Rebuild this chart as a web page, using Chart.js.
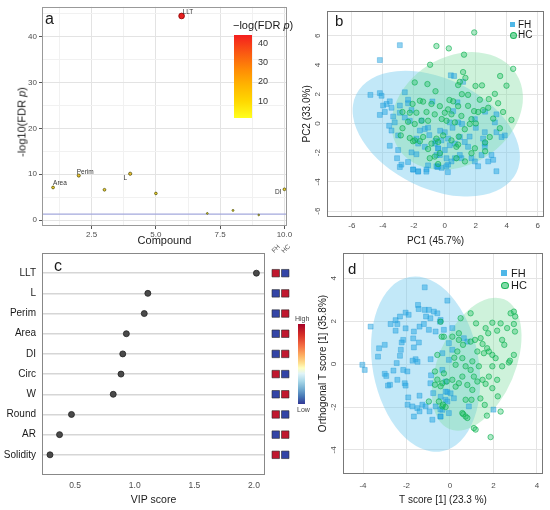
<!DOCTYPE html>
<html>
<head>
<meta charset="utf-8">
<script src="https://cdn.jsdelivr.net/npm/chart.js@4.4.1/dist/chart.umd.min.js"></script>
<style>
  body { margin: 0; background: #fff; }
  #page { position: relative; width: 550px; height: 510px; overflow: hidden; font-family: "Liberation Sans", Arial, sans-serif; }
  canvas { position: absolute; }
  .t { position: absolute; white-space: nowrap; line-height: 1; color: #1a1a1a; }
  .rot { transform: translate(-50%, -50%) rotate(-90deg); }
  .rot45 { transform: translate(-50%, -50%) rotate(-45deg); }
  .box { position: absolute; }
</style>
</head>
<body>
<div id="page">
  <canvas id="chartA" width="295" height="252" style="left:0;top:0"></canvas>
  <canvas id="chartB" width="260" height="252" style="left:290px;top:0"></canvas>
  <canvas id="chartC" width="270" height="270" style="left:0;top:240px"></canvas>
  <canvas id="chartHeat" width="19" height="270" style="left:271px;top:240px"></canvas>
  <canvas id="chartD" width="260" height="270" style="left:290px;top:240px"></canvas>

  <!-- panel letters -->
  <div class="t" style="left:45px;top:10.5px;font-size:16px">a</div>
  <div class="t" style="left:335px;top:13px;font-size:15px">b</div>
  <div class="t" style="left:54px;top:258px;font-size:16px">c</div>
  <div class="t" style="left:348px;top:261px;font-size:15px">d</div>

  <!-- panel a: y title + colour bar -->
  <div class="t rot" style="left:22px;top:122px;font-size:11px">-log10(FDR <i>p</i>)</div>
  <div class="t" style="left:233px;top:19.5px;font-size:11px">−log(FDR <i>p</i>)</div>
  <div class="box" style="left:234px;top:35px;width:18px;height:83px;background:linear-gradient(to bottom,#f41e1e 0%,#fa5a12 22%,#ff8c05 42%,#ffb400 60%,#ffd800 80%,#ffff1e 100%)"></div>
  <div id="aBarLabels"></div>

  <!-- panel b legend -->
  <div class="box" style="left:509.5px;top:21.5px;width:5px;height:5px;background:rgba(35,165,225,0.8)"></div>
  <div class="t" style="left:518px;top:19.5px;font-size:10px">FH</div>
  <div class="box" style="left:509.5px;top:31.5px;width:5px;height:5px;border-radius:50%;background:rgba(25,190,95,0.55);border:0.8px solid rgba(15,175,80,0.9)"></div>
  <div class="t" style="left:518px;top:30px;font-size:10px">HC</div>

  <!-- panel c: heat column labels + colour key -->
  <div class="t rot45" style="left:276px;top:249px;font-size:6.5px;color:#555">FH</div>
  <div class="t rot45" style="left:285.5px;top:249px;font-size:6.5px;color:#555">HC</div>
  <div class="box" style="left:298px;top:324px;width:7px;height:80px;background:linear-gradient(to bottom,#a50026 0%,#d73027 14%,#f46d43 27%,#fdae61 39%,#fee090 49%,#ffffbf 55%,#e0f3f8 62%,#abd9e9 71%,#74add1 81%,#4575b4 91%,#313695 100%)"></div>
  <div class="t" style="left:295px;top:314.5px;font-size:7px;color:#444">High</div>
  <div class="t" style="left:297px;top:405.5px;font-size:7px;color:#444">Low</div>

  <!-- panel d legend -->
  <div class="box" style="left:501.3px;top:270px;width:5.5px;height:5.5px;background:rgba(35,165,225,0.8)"></div>
  <div class="t" style="left:511px;top:267.5px;font-size:11px">FH</div>
  <div class="box" style="left:501px;top:281.7px;width:5.5px;height:5.5px;border-radius:50%;background:rgba(25,190,95,0.55);border:0.8px solid rgba(15,175,80,0.9)"></div>
  <div class="t" style="left:511px;top:279.5px;font-size:11px">HC</div>
</div>

<script>
// ---------- panel a: -log10(FDR p) per compound
var aCompound = [1, 2, 3, 4, 5, 6, 7, 8, 9, 10];
var aLogP = [7.1, 9.7, 6.6, 10.1, 5.8, 44.5, 1.45, 2.1, 1.1, 6.7];
var aNames = ['Area', 'Perim', '', 'L', '', 'LLT', '', '', '', 'DI'];
var aXTicks = [1.25, 2.5, 3.75, 5, 6.25, 7.5, 8.75, 10];
var aXMajor = [2.5, 5, 7.5, 10];
var aYTicks = [0, 5, 10, 15, 20, 25, 30, 35, 40, 45];
var aYMajor = [0, 10, 20, 30, 40];
var aBarTicks = [10, 20, 30, 40];
var aColorMin = 1.1, aColorMax = 44.5;
var aCutoff = 1.3;

// ---------- panel b: PCA scores
var bTicks = [-6, -4, -2, 0, 2, 4, 6];
var bFH = [[-2.9,5.35],[-4.19,4.33],[-4.8,1.95],[-4.19,2.07],[-4.08,1.89],[-2.58,2.13],[-3.55,1.51],[-3.76,1.33],[-3.98,1.22],[-3.44,1.07],
  [-3.87,0.78],[-4.19,0.58],[-3.33,0.47],[-2.9,1.22],[-2.37,1.38],[-2.15,0.91],[-2.58,0.4],[-3.59,-0.16],[-3.23,0.07],[-3.44,-0.49],
  [-3.01,-0.82],[-3.55,-1.53],[-3.01,-1.82],[-3.08,-2.38],[-2.8,-2.82],[-2.37,-2.64],[-2.04,-3.15],[-1.72,-3.27],[-1.83,-2.11],[-2.15,-1.98],
  [-1.61,-0.49],[-1.29,-0.38],[-1.08,-0.29],[-1.72,-1.38],[-1.29,-1.6],[-1.08,-2.87],[-1.18,-3.15],[-0.54,-2.93],[-0.54,-2.16],[-0.64,-1.38],
  [-0.43,-1.71],[-2.26,0.18],[-2.37,1.62],[-1.83,-1.04],[-2.9,0.73],[0.39,3.29],[0.6,3.24],[1.18,2.84],[0.82,1.44],[0.54,0.84],
  [0.32,0.07],[0.86,0.07],[1.11,-0.04],[1.94,0.29],[3.33,0.62],[3.23,0.07],[3.33,-0.6],[3.87,-0.82],[3.66,-0.93],[2.58,-0.6],
  [2.47,-1.04],[2.58,-1.38],[2.37,-2.16],[2.58,-1.6],[3.01,-2.16],[2.8,-2.6],[3.12,-2.49],[3.33,-3.27],[1.5,-1.6],[1.72,-2.38],
  [1.07,-2.38],[0.97,-2.16],[0.65,-2.38],[0.43,-2.6],[0.21,-2.82],[-0.21,-3.04],[-0.43,-2.93],[-0.32,-2.16],[0.0,-1.82],[0.32,-1.49],
  [0.65,-1.38],[1.29,-1.27],[0.97,-0.93],[0.21,-1.04],[-0.22,-1.16],[-0.43,-1.71],[0.0,-0.6],[0.11,-2.38],[1.94,-2.6],[2.15,-2.93],
  [-2.9,-2.98],[-2.05,-3.16],[-1.72,-3.3],[-1.19,-3.3],[-0.47,-2.98],[0.1,-2.93],[0.2,-3.33],[-1.5,0.2],[-1.0,-0.8],[-0.6,-1.2],
  [-0.3,-0.5],[0.5,-0.3],[1.6,-0.9],[2.0,-0.3],[2.6,0.8],[-0.8,1.5]];
var bHC = [[1.9,6.22],[-0.54,5.29],[0.26,5.13],[1.24,4.7],[-0.95,4.01],[4.41,3.73],[3.57,3.24],[3.98,2.58],[1.18,3.51],[1.33,3.11],
  [0.97,2.84],[0.86,2.62],[1.98,2.56],[1.5,1.95],[2.26,1.62],[3.23,2.02],[2.84,1.66],[3.44,1.38],[3.76,0.78],[4.3,0.24],
  [3.55,-0.33],[3.12,0.33],[2.8,1.07],[2.47,0.91],[2.15,0.78],[1.89,0.84],[1.72,0.29],[1.61,-0.04],[0.86,1.18],[0.54,1.51],
  [0.21,0.96],[0.0,0.73],[-0.32,1.18],[-0.65,0.62],[0.43,0.62],[0.11,0.18],[0.65,0.07],[1.07,0.51],[1.29,-0.4],[-0.11,-0.82],
  [0.43,-1.16],[0.75,-1.6],[0.86,-1.45],[-0.43,-1.27],[-0.32,-2.04],[1.94,-1.7],[1.72,-2.04],[2.9,-0.93],[2.6,-1.3],[2.6,-1.9],
  [-1.94,2.8],[-1.12,2.69],[-1.61,1.55],[-1.4,1.49],[-2.08,1.33],[-2.73,0.78],[-2.26,0.73],[-1.83,0.73],[-1.18,0.78],[-0.86,1.33],
  [-1.5,0.18],[-1.94,-0.04],[-2.37,0.11],[-2.73,-0.33],[-2.84,-0.82],[-2.26,-1.0],[-1.94,-1.16],[-1.61,-1.22],[-1.4,-0.93],[-1.08,0.18],
  [-1.08,-1.75],[-0.86,-1.38],[-0.54,-1.04],[-0.65,-2.27],[-0.97,-2.38],[-2.05,-1.22],[-0.43,-2.78],[0.75,-2.38],[1.3,-2.6],[0.3,1.6],
  [1.5,1.2],[2.0,0.0],[0.9,-0.9],[-0.2,0.3],[1.1,2.0],[2.4,2.6],[-0.6,2.2]];
// ellipse: centre x, centre y, radius x, radius y, rotation (deg)
var bEllipseFH = [-0.55, -0.7, 5.75, 3.75, 26];
var bEllipseHC = [0.8, 0.85, 4.5, 3.7, -32];

// ---------- panel c: VIP scores
var cFeatures = ['LLT', 'L', 'Perim', 'Area', 'DI', 'Circ', 'W', 'Round', 'AR', 'Solidity'];
var cVip = [2.02, 1.11, 1.08, 0.93, 0.90, 0.885, 0.82, 0.47, 0.37, 0.29];
var cXTicks = [0.5, 1.0, 1.5, 2.0];
var cGroups = ['FH', 'HC'];
var cHeatFH = [1, 0, 0, 0, 0, 1, 0, 1, 0, 1];   // 1 = high, 0 = low
var cHeatHC = [0, 1, 1, 1, 1, 0, 1, 0, 1, 0];
var cRows = [''].concat(cFeatures, ['']);

// ---------- panel d: OPLS-DA scores
var dTicks = [-4, -2, 0, 2, 4];
var dFH = [[-1.16,3.58],[-1.47,2.76],[-1.44,2.57],[-1.16,2.53],[-0.97,2.53],[-0.74,2.45],[-0.58,2.37],[-2.04,2.4],[-2.3,2.22],[-0.12,2.96],
  [-1.1,2.22],[-0.9,2.14],[-0.46,1.98],[-2.73,1.87],[-2.42,1.87],[-1.2,1.87],[-3.65,1.75],[-2.5,1.56],[-2.04,1.67],[-1.66,1.52],
  [-1.4,1.75],[-0.97,1.6],[-0.66,1.52],[-2.15,1.13],[-2.22,1.01],[-1.69,1.2],[-1.43,1.01],[-3.26,0.74],[-3.31,0.35],[-2.26,0.67],
  [-2.3,0.39],[-1.66,0.78],[-1.58,0.23],[-1.72,0.16],[-1.49,0.11],[-4.03,-0.03],[-3.92,-0.27],[-2.45,0.05],[-2.15,-0.27],[-1.96,-0.34],
  [-3.0,-0.45],[-2.93,-0.55],[-2.42,-0.73],[-2.76,-0.96],[-2.85,-1.0],[-2.08,-0.89],[-2.04,-1.0],[-0.89,0.23],[-0.87,-0.52],[-0.9,-0.89],
  [-0.77,-1.35],[-1.92,-1.55],[-1.4,-1.47],[-1.95,-1.89],[-1.73,-1.97],[-1.5,-2.05],[-1.27,-1.89],[-1.12,-1.97],[-1.4,-2.2],[-1.66,-2.44],
  [-0.94,-2.2],[-0.66,-1.97],[-0.81,-2.59],[-0.44,-2.11],[-0.2,-1.66],[-0.12,-1.3],[-0.44,-2.44],[2.0,-2.12],[-0.43,2.06],[-0.28,1.6],
  [0.11,1.68],[0.64,1.21],[0.8,1.05],[-0.05,0.98],[0.11,0.67],[-0.35,0.51],[-0.05,0.2],[-0.35,-0.27],[-0.2,-0.81],[-0.2,-1.28],
  [-0.43,-1.52],[0.03,-1.36],[-0.12,-1.74],[0.18,-1.59],[-0.35,-2.13],[-0.05,-2.28],[0.87,-1.97],[-0.43,-2.44],[-2.5,2.05],[-1.9,2.3],
  [-3.0,0.9],[-2.6,-0.3]];
var dHC = [[2.94,2.45],[3.0,2.22],[0.95,2.37],[0.49,2.14],[1.95,1.93],[2.33,1.9],[2.94,1.87],[1.64,1.68],[1.76,1.44],[2.17,1.56],
  [2.63,1.68],[2.99,1.52],[2.4,1.13],[1.41,1.21],[1.15,1.13],[0.95,1.05],[-0.28,1.28],[0.11,1.28],[0.41,1.13],[1.5,0.94],
  [1.71,0.74],[1.79,0.59],[1.26,0.59],[1.56,0.51],[1.95,0.43],[2.1,0.28],[2.94,0.43],[2.71,0.08],[2.4,-0.1],[1.95,-0.1],
  [0.34,0.59],[0.57,0.28],[0.26,-0.03],[0.72,-0.1],[1.03,0.13],[1.33,-0.1],[0.95,-0.27],[1.1,-0.58],[1.5,-0.73],[1.79,-0.58],
  [2.17,-0.73],[1.95,-1.12],[1.64,-0.92],[1.26,-0.81],[0.57,-0.58],[0.41,-0.89],[0.11,-0.73],[-0.28,-0.43],[-0.35,-0.89],[0.26,-1.05],
  [0.8,-0.97],[1.03,-1.2],[0.72,-1.66],[0.99,-1.66],[-0.51,-1.74],[-0.35,-1.97],[0.57,-2.28],[0.72,-2.44],[1.1,-2.98],[1.18,-3.05],
  [1.87,-3.4],[2.33,-2.21],[1.7,-2.4],[0.41,1.44],[-0.43,1.98],[-0.38,1.28],[-0.58,0.43],[-0.69,-0.34],[-0.58,-0.72],[-0.43,-1.03],
  [-0.32,-1.89],[-0.2,-2.0],[-0.97,-1.74],[-0.69,-0.96],[-0.15,-0.81],[0.61,-2.33],[0.8,-2.51],[2.79,2.37],[2.76,0.16],[2.2,-1.5],
  [1.4,-1.6],[0.2,0.3],[0.6,0.9],[2.5,0.9],[1.2,1.9],[1.6,-1.9]];
var dEllipseFH = [-1.12, 0.0, 2.44, 4.13, -10.6];
var dEllipseHC = [1.23, 0.0, 1.77, 3.28, 23];

// ---------- shared settings
Chart.defaults.font.family = '"Liberation Sans", Arial, sans-serif';
Chart.defaults.color = '#4d4d4d';
Chart.defaults.animation = false;
Chart.defaults.events = [];
Chart.defaults.plugins.legend.display = false;
Chart.defaults.plugins.tooltip.enabled = false;

var blueFill = 'rgba(110,200,238,0.42)';
var greenFill = 'rgba(125,220,160,0.38)';

function frame(color) {
  return {
    id: 'frame',
    afterDatasetsDraw: function (chart) {
      var a = chart.chartArea, ctx = chart.ctx;
      ctx.save();
      ctx.strokeStyle = color;
      ctx.lineWidth = 1;
      ctx.strokeRect(Math.round(a.left) + 0.5, Math.round(a.top) + 0.5,
        Math.round(a.right - a.left) - 1, Math.round(a.bottom - a.top) - 1);
      ctx.restore();
    }
  };
}

// confidence ellipses drawn in data units through the chart scales
function ellipses(list) {
  return {
    id: 'ellipses',
    beforeDatasetsDraw: function (chart) {
      var ctx = chart.ctx, a = chart.chartArea, x = chart.scales.x, y = chart.scales.y;
      ctx.save();
      ctx.beginPath();
      ctx.rect(a.left, a.top, a.right - a.left, a.bottom - a.top);
      ctx.clip();
      list.forEach(function (item) {
        var e = item[0];
        var cx = x.getPixelForValue(e[0]), cy = y.getPixelForValue(e[1]);
        var rx = Math.abs(x.getPixelForValue(e[0] + e[2]) - cx);
        var ry = Math.abs(y.getPixelForValue(e[1] + e[3]) - cy);
        ctx.beginPath();
        ctx.ellipse(cx, cy, rx, ry, e[4] * Math.PI / 180, 0, 2 * Math.PI);
        ctx.fillStyle = item[1];
        ctx.fill();
      });
      ctx.restore();
    }
  };
}

function setTicks(list) {
  return function (s) { s.ticks = list.map(function (v) { return { value: v }; }); };
}
function fixW(w) { return function (s) { s.width = w; }; }
function fixH(h) { return function (s) { s.height = h; }; }

function groupSets(fh, hc) {
  return [
    { data: hc.map(function (p) { return { x: p[0], y: p[1] }; }), pointStyle: 'circle', pointRadius: 2.7,
      backgroundColor: 'rgba(25,190,95,0.35)', borderColor: 'rgba(15,178,82,0.8)', borderWidth: 0.8, clip: false },
    { data: fh.map(function (p) { return { x: p[0], y: p[1] }; }), pointStyle: 'rect', pointRadius: 3.5,
      backgroundColor: 'rgba(35,165,225,0.5)', borderColor: 'rgba(25,150,215,0.7)', borderWidth: 0.5, clip: false }
  ];
}

function pcaScale(min, max, ticks, title, vertical, titlePad) {
  return {
    type: 'linear', min: min, max: max,
    afterBuildTicks: setTicks(ticks),
    ticks: vertical
      ? { font: { size: 8 }, color: '#4d4d4d', padding: 6, minRotation: 90, maxRotation: 90, crossAlign: 'center', autoSkip: false }
      : { font: { size: 8 }, color: '#4d4d4d', padding: titlePad[1], maxRotation: 0, autoSkip: false },
    grid: { color: '#e4e4e4', drawTicks: false },
    border: { display: false },
    title: { display: true, text: title, font: { size: 10 }, color: '#1a1a1a',
      padding: vertical ? { top: titlePad[0], bottom: 0 } : { top: 0, bottom: titlePad[0] } }
  };
}

// ---------- panel a
function fdrColor(v) {
  var t = (v - aColorMin) / (aColorMax - aColorMin);
  t = Math.max(0, Math.min(1, t));
  return 'rgb(' + Math.round(240 - 10 * t) + ',' + Math.round(232 * (1 - t) + 30 * t) + ',' + Math.round(50 * (1 - t) + 30 * t) + ')';
}
var aLabelOffset = { Area: [0, -2, 'left'], Perim: [-2, -2, 'left'], L: [-3, 6, 'right'], LLT: [1, -2, 'left'], DI: [-3, 5, 'right'] };

var aLabels = {
  id: 'ptlabels',
  afterDatasetsDraw: function (chart) {
    var ctx = chart.ctx, meta = chart.getDatasetMeta(0);
    ctx.save();
    ctx.font = '6.5px "Liberation Sans", Arial, sans-serif';
    ctx.fillStyle = '#333';
    meta.data.forEach(function (pt, i) {
      var n = aNames[i];
      if (!n) return;
      var o = aLabelOffset[n];
      ctx.textAlign = o[2];
      ctx.fillText(n, pt.x + o[0], pt.y + o[1]);
    });
    ctx.restore();
  }
};

var aCutLine = {
  id: 'cutoff',
  beforeDatasetsDraw: function (chart) {
    var ctx = chart.ctx, a = chart.chartArea, y = chart.scales.y.getPixelForValue(aCutoff);
    ctx.save();
    ctx.strokeStyle = '#a3a8dc';
    ctx.lineWidth = 1.4;
    ctx.beginPath();
    ctx.moveTo(a.left, y);
    ctx.lineTo(a.right, y);
    ctx.stroke();
    ctx.restore();
  }
};

new Chart('chartA', {
  type: 'scatter',
  data: {
    datasets: [{
      data: aCompound.map(function (c, i) { return { x: c, y: aLogP[i] }; }),
      pointRadius: aLogP.map(function (v) { return 0.45 + 0.36 * Math.sqrt(v); }),
      backgroundColor: aLogP.map(fdrColor),
      borderColor: aLogP.map(function (v) { return v > 20 ? '#8b0000' : 'rgba(70,70,0,0.9)'; }),
      borderWidth: 0.8,
      clip: false
    }]
  },
  options: {
    responsive: false,
    layout: { padding: { top: 6, right: 8, left: 0, bottom: 0 } },
    scales: {
      x: {
        type: 'linear', min: 0.57, max: 10.1,
        afterBuildTicks: setTicks(aXTicks), afterFit: fixH(26),
        ticks: { callback: function (v) { return aXMajor.indexOf(v) >= 0 ? v.toFixed(1) : ''; },
          font: { size: 8 }, color: '#4d4d4d', padding: 1, maxRotation: 0, autoSkip: false },
        grid: { color: function (c) { return aXMajor.indexOf(c.tick.value) >= 0 ? '#e3e3e3' : '#f1f1f1'; },
          tickLength: 3, tickColor: function (c) { return aXMajor.indexOf(c.tick.value) >= 0 ? '#555' : 'rgba(0,0,0,0)'; } },
        border: { display: false },
        title: { display: true, text: 'Compound', font: { size: 11 }, color: '#1a1a1a', padding: { top: 0, bottom: 4 } }
      },
      y: {
        type: 'linear', min: -1.3, max: 46.5,
        afterBuildTicks: setTicks(aYTicks), afterFit: fixW(42),
        ticks: { callback: function (v) { return aYMajor.indexOf(v) >= 0 ? String(v) : ''; },
          font: { size: 8 }, color: '#4d4d4d', padding: 2, autoSkip: false },
        grid: { color: function (c) { return aYMajor.indexOf(c.tick.value) >= 0 ? '#e3e3e3' : '#f1f1f1'; },
          tickLength: 3, tickColor: function (c) { return aYMajor.indexOf(c.tick.value) >= 0 ? '#555' : 'rgba(0,0,0,0)'; } },
        border: { display: false }
      }
    }
  },
  plugins: [aCutLine, aLabels, frame('#999')]
});

// colour bar labels for panel a
var barBox = document.getElementById('aBarLabels');
aBarTicks.forEach(function (v) {
  var d = document.createElement('div');
  d.className = 't';
  d.style.fontSize = '9px';
  d.style.color = '#333';
  d.style.left = '258px';
  d.style.top = (35 + (aColorMax - v) / (aColorMax - aColorMin) * 83 - 4.4) + 'px';
  d.textContent = String(v);
  barBox.appendChild(d);
});

// ---------- panel b
new Chart('chartB', {
  type: 'scatter',
  data: { datasets: groupSets(bFH, bHC) },
  options: {
    responsive: false,
    layout: { padding: { top: 6, right: 6, left: 8, bottom: 0 } },
    scales: {
      x: Object.assign(pcaScale(-7.6, 6.4, bTicks, 'PC1 (45.7%)', false, [5, 3.5]), { afterFit: fixH(35) }),
      y: Object.assign(pcaScale(-6.4, 7.7, bTicks, 'PC2 (33.0%)', true, [3]), { afterFit: fixW(29) })
    }
  },
  plugins: [ellipses([[bEllipseFH, blueFill], [bEllipseHC, greenFill]]), frame('#777')]
});

// ---------- panel c
new Chart('chartC', {
  type: 'scatter',
  data: {
    datasets: [{
      data: cFeatures.map(function (f, i) { return { x: cVip[i], y: f }; }),
      pointRadius: 3, backgroundColor: '#4a4a4a', borderColor: '#222', borderWidth: 0.8, clip: false
    }]
  },
  options: {
    responsive: false,
    layout: { padding: { top: 13, right: 5, left: 0, bottom: 0 } },
    scales: {
      x: {
        type: 'linear', min: 0.223, max: 2.092,
        afterBuildTicks: setTicks(cXTicks), afterFit: fixH(35),
        ticks: { callback: function (v) { return v.toFixed(1); }, font: { size: 8.5 }, color: '#4d4d4d', padding: 5.5, maxRotation: 0, autoSkip: false },
        grid: { display: false, drawTicks: false },
        border: { display: false },
        title: { display: true, text: 'VIP score', font: { size: 10.5 }, color: '#1a1a1a', padding: { top: 0, bottom: 4 } }
      },
      y: {
        type: 'category', labels: cRows, afterFit: fixW(42),
        ticks: { font: { size: 10 }, color: '#1a1a1a', padding: 6, autoSkip: false },
        grid: { color: function (c) { return cRows[c.index] ? '#d6d6d6' : 'rgba(0,0,0,0)'; }, lineWidth: 1.5, drawTicks: false },
        border: { display: false }
      }
    }
  },
  plugins: [frame('#888')]
});

// heat cells beside panel c (FH / HC columns)
function heatColor(v) { return v ? '#c0182f' : '#3344a6'; }
function heatSet(group, values) {
  return {
    data: cFeatures.map(function (f) { return { x: cGroups.indexOf(group), y: f }; }),
    backgroundColor: values.map(heatColor),
    pointStyle: 'rect', pointRadius: 5.3, borderWidth: 0.6, borderColor: '#2b2b2b', clip: false
  };
}
new Chart('chartHeat', {
  type: 'scatter',
  data: { datasets: [heatSet('FH', cHeatFH), heatSet('HC', cHeatHC)] },
  options: {
    responsive: false,
    layout: { autoPadding: false, padding: { top: 13, bottom: 35, left: 0, right: 0 } },
    scales: {
      x: { type: 'linear', min: -0.5, max: 1.5, display: false },
      y: { type: 'category', labels: cRows, display: false }
    }
  }
});

// ---------- panel d
new Chart('chartD', {
  type: 'scatter',
  data: { datasets: groupSets(dFH, dHC) },
  options: {
    responsive: false,
    layout: { padding: { top: 13, right: 7, left: 24, bottom: 0 } },
    scales: {
      x: Object.assign(pcaScale(-4.92, 4.28, dTicks, 'T score [1] (23.3 %)', false, [4, 6.5]), { afterFit: fixH(36) }),
      y: Object.assign(pcaScale(-5.12, 5.18, dTicks, 'Orthogonal T score [1] (35.8%)', true, [3]), { afterFit: fixW(29) })
    }
  },
  plugins: [ellipses([[dEllipseFH, blueFill], [dEllipseHC, greenFill]]), frame('#777')]
});
</script>
</body>
</html>
